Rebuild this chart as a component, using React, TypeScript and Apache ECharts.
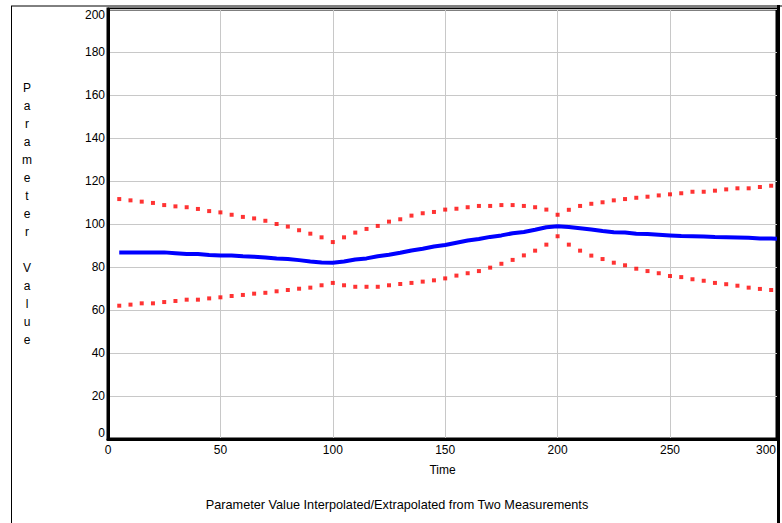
import React, { useEffect, useRef } from "react";
import * as echarts from "echarts";

const timePoints = [
  5, 10, 15, 20, 25, 30, 35, 40, 45, 50, 55, 60, 65, 70, 75, 80, 85, 90, 95, 100,
  105, 110, 115, 120, 125, 130, 135, 140, 145, 150, 155, 160, 165, 170, 175, 180, 185, 190, 195, 200,
  205, 210, 215, 220, 225, 230, 235, 240, 245, 250, 255, 260, 265, 270, 275, 280, 285, 290, 295,
];

const paramValue = [
  86.8, 86.8, 86.8, 86.8, 86.8, 86.4, 86.0, 86.0, 85.6, 85.4, 85.4, 85.0, 84.8, 84.4, 83.9, 83.7, 83.2, 82.6, 82.1, 82.0,
  82.6, 83.5, 84.0, 85.0, 85.7, 86.6, 87.7, 88.5, 89.5, 90.2, 91.3, 92.3, 93.0, 94.0, 94.7, 95.7, 96.3, 97.3, 98.5, 99.0,
  98.6, 98.0, 97.4, 96.7, 96.2, 96.0, 95.5, 95.3, 95.0, 94.7, 94.4, 94.3, 94.2, 93.9, 93.8, 93.7, 93.6, 93.3, 93.2,
];

const upperBound = [
  111.6, 111.0, 110.4, 109.8, 108.8, 108.2, 107.8, 107.0, 106.0, 105.4, 104.3, 103.3, 102.6, 101.5, 100.0, 98.8, 97.1, 95.5, 93.8, 91.6,
  93.8, 96.0, 97.7, 99.1, 101.1, 102.2, 103.9, 105.0, 105.6, 106.7, 107.1, 107.8, 108.4, 108.4, 108.8, 108.8, 108.4, 107.8, 106.7, 104.3,
  106.6, 108.4, 109.4, 110.1, 111.0, 111.6, 112.2, 112.7, 113.3, 113.8, 114.3, 115.0, 115.0, 115.5, 116.1, 116.6, 116.6, 117.2, 117.8,
];

const lowerBound = [
  62.0, 62.5, 63.1, 63.1, 63.7, 64.2, 64.8, 64.8, 65.4, 65.9, 66.5, 67.0, 67.6, 68.0, 68.7, 69.3, 69.9, 70.4, 71.5, 72.6,
  71.5, 70.8, 70.8, 70.8, 71.5, 72.1, 72.6, 73.2, 73.8, 74.7, 76.0, 77.1, 78.1, 79.7, 81.5, 83.3, 85.4, 87.6, 90.4, 94.3,
  90.4, 87.6, 85.3, 83.7, 82.0, 80.8, 79.2, 78.1, 77.1, 75.8, 75.3, 74.3, 73.6, 72.6, 72.0, 71.3, 70.4, 69.8, 69.3,
];

const lastTime = 297.6;
const lastValue = 93.1;

const xTickLabelExtra = "300";
const yAxisTitle = "Parameter Value";
const xAxisTitle = "Time";
const chartTitle = "Parameter Value Interpolated/Extrapolated from Two Measurements";

const FONT = "'Liberation Sans', Arial, sans-serif";

export default function App() {
  const ref = useRef<HTMLDivElement>(null);

  useEffect(() => {
    if (!ref.current) return;
    const chart = echarts.init(ref.current, null, { renderer: "svg" });

    const blueData = timePoints.map((t, i) => [t, paramValue[i]]);
    blueData.push([lastTime, lastValue]);
    const upperData = timePoints.map((t, i) => [t, upperBound[i]]);
    const lowerData = timePoints.map((t, i) => [t, lowerBound[i]]);

    const option: any = {
      animation: false,
      backgroundColor: "#ffffff",
      textStyle: { fontFamily: FONT },
      grid: {
        left: 108,
        right: 5,
        top: 9,
        bottom: 84,
        show: true,
        borderColor: "#000000",
        borderWidth: 3,
        backgroundColor: "transparent",
      },
      xAxis: {
        type: "value",
        min: 0,
        max: lastTime,
        interval: 50,
        name: xAxisTitle,
        nameLocation: "middle",
        nameGap: 25,
        nameTextStyle: { color: "#000", fontSize: 12, fontFamily: FONT },
        axisLine: { show: true, lineStyle: { color: "#000", width: 3 } },
        axisTick: { show: false },
        axisLabel: {
          color: "#000",
          fontSize: 12,
          fontFamily: FONT,
          margin: 5,
          showMaxLabel: false,
        },
        splitLine: { show: true, lineStyle: { color: "#c8c8c8", width: 1 } },
      },
      yAxis: {
        type: "value",
        min: 0,
        max: 200,
        interval: 20,
        axisLine: { show: true, lineStyle: { color: "#000", width: 3 } },
        axisTick: { show: false },
        axisLabel: {
          color: "#000",
          fontSize: 12,
          fontFamily: FONT,
          margin: 3,
          verticalAlignMaxLabel: "top",
          verticalAlignMinLabel: "bottom",
        },
        splitLine: { show: true, lineStyle: { color: "#c8c8c8", width: 1 } },
      },
      series: [
        {
          type: "line",
          data: blueData,
          showSymbol: false,
          symbol: "none",
          lineStyle: { color: "#0000ff", width: 4 },
          z: 3,
        },
        {
          type: "scatter",
          data: upperData,
          symbol: "rect",
          symbolSize: 4,
          itemStyle: { color: "#ff0000" },
          z: 4,
        },
        {
          type: "scatter",
          data: lowerData,
          symbol: "rect",
          symbolSize: 4,
          itemStyle: { color: "#ff0000" },
          z: 4,
        },
      ],
      graphic: [
        {
          type: "line",
          shape: { x1: 11, y1: 6, x2: 782, y2: 6 },
          style: { stroke: "#000", lineWidth: 1 },
          z: 10,
        },
        {
          type: "line",
          shape: { x1: 11.5, y1: 6, x2: 11.5, y2: 523 },
          style: { stroke: "#000", lineWidth: 1 },
          z: 10,
        },
        {
          type: "line",
          shape: { x1: 778.5, y1: 5, x2: 778.5, y2: 523 },
          style: { stroke: "#000", lineWidth: 3 },
          z: 10,
        },
        {
          type: "text",
          x: 776,
          y: 450,
          style: {
            text: xTickLabelExtra,
            fill: "#000",
            font: `12px ${FONT}`,
            align: "right",
            verticalAlign: "middle",
          },
          z: 10,
        },
        {
          type: "text",
          x: 27,
          y: 79,
          style: {
            text: yAxisTitle.split("").join("\n"),
            fill: "#000",
            font: `12px ${FONT}`,
            align: "center",
            verticalAlign: "top",
            lineHeight: 18,
          },
          z: 10,
        },
        {
          type: "text",
          x: 397,
          y: 505,
          style: {
            text: chartTitle,
            fill: "#000",
            font: `12.7px ${FONT}`,
            align: "center",
            verticalAlign: "middle",
          },
          z: 10,
        },
      ],
    };

    chart.setOption(option);
    return () => chart.dispose();
  }, []);

  return (
    <div
      ref={ref}
      style={{ position: "absolute", left: 0, top: 0, width: 782, height: 523 }}
    />
  );
}
